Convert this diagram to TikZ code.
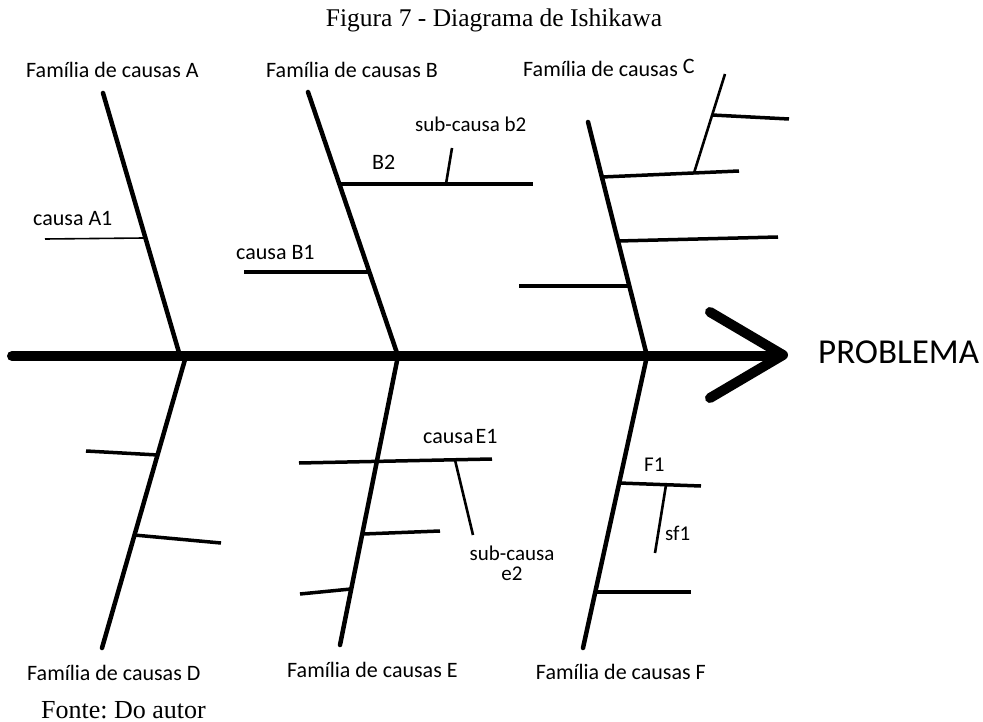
\documentclass[tikz,border=0pt]{standalone}
\usepackage{fontspec}
\setmainfont{Liberation Serif}
\newfontfamily\calfont{Carlito}
\frenchspacing
\begin{document}
\begin{tikzpicture}[x=1pt,y=-1pt,
  lbl/.style={font=\calfont\fontsize{22}{24}\selectfont, inner sep=0pt, anchor=base west},
  slbl/.style={font=\calfont\fontsize{21}{20}\selectfont, inner sep=0pt},
  spine/.style={line width=10pt, line cap=round, line join=round},
  bone/.style={line width=4.5pt, line cap=round},
  branch/.style={line width=3.5pt},
  subline/.style={line width=2.6pt},
  thinline/.style={line width=1.6pt}]
\useasboundingbox (0,0) rectangle (983,722);
% title and source
\node[font=\fontsize{25.5}{27}\selectfont, inner sep=0pt, anchor=base] (title) at (494,27) {Figura 7 - Diagrama de Ishikawa};
\node[font=\fontsize{26}{27}\selectfont, inner sep=0pt, anchor=base west] (fonte) at (41,718) {Fonte: Do autor};
% spine
\coordinate (s0) at (12,356);
\coordinate (s1) at (780,356);
\coordinate (hu) at (710,312);
\coordinate (ht) at (783,355);
\coordinate (hd) at (710,398);
\draw[spine] (s0) -- (s1);
\draw[spine] (hu) -- (ht) -- (hd);
\node[font=\calfont\fontsize{35}{36}\selectfont, inner sep=0pt, anchor=base west] (prob) at (818,363) {PROBLEMA};
% family labels
\node[lbl] (la) at (26,78) {Família de causas A};
\node[lbl] (lb) at (266,78) {Família de causas B};
\node[lbl] (lc) at (523,77) {Família de causas\hspace{5pt}\raisebox{3pt}{C}};
\node[lbl] (ld) at (27,680) {Família de causas D};
\node[lbl] (le) at (287,677) {Família de causas E};
\node[lbl, anchor=base east] (lf) at (706,679) {Família de causas F};
% bone A
\coordinate (a0) at (103,93); \coordinate (a1) at (180,356);
\draw[bone] (a0) -- (a1);
\coordinate (a1l) at (45,239); \coordinate (a1r) at (144,238);
\draw[thinline] (a1l) -- (a1r);
\node[lbl] (ta1) at (33,226) {causa A1};
% bone B
\coordinate (b0) at (308,92); \coordinate (b1) at (398,356);
\draw[bone] (b0) -- (b1);
\coordinate (b2l) at (339,184); \coordinate (b2r) at (533,184);
\draw[branch] (b2l) -- (b2r);
\coordinate (sb0) at (446,184); \coordinate (sb1) at (452,148);
\draw[subline] (sb0) -- (sb1);
\node[lbl] (tb2) at (372,170) {B2};
\node[slbl, anchor=base west] (tsb2) at (415,132) {sub-causa b2};
\coordinate (b1l) at (244,272); \coordinate (b1r) at (369,272);
\draw[branch] (b1l) -- (b1r);
\node[lbl] (tb1) at (236,260) {causa B1};
% bone C
\coordinate (c0) at (588,122); \coordinate (c1) at (647,356);
\draw[bone] (c0) -- (c1);
\coordinate (c1l) at (602,177); \coordinate (c1r) at (739,171);
\draw[branch] (c1l) -- (c1r);
\coordinate (sc0) at (694,173); \coordinate (sc1) at (725,74);
\draw[subline] (sc0) -- (sc1);
\coordinate (sc2l) at (712,115); \coordinate (sc2r) at (789,119);
\draw[branch] (sc2l) -- (sc2r);
\coordinate (c2l) at (618,241); \coordinate (c2r) at (778,237);
\draw[branch] (c2l) -- (c2r);
\coordinate (c3l) at (519,286); \coordinate (c3r) at (629,286);
\draw[branch] (c3l) -- (c3r);
% bone D
\coordinate (d0) at (186,356); \coordinate (d1) at (102,648);
\draw[bone] (d0) -- (d1);
\coordinate (d1l) at (86,451); \coordinate (d1r) at (158,455);
\draw[branch] (d1l) -- (d1r);
\coordinate (d2l) at (134,535); \coordinate (d2r) at (221,543);
\draw[branch] (d2l) -- (d2r);
% bone E
\coordinate (e0) at (398,356); \coordinate (e1) at (340,645);
\draw[bone] (e0) -- (e1);
\coordinate (e1l) at (299,463); \coordinate (e1r) at (492,459);
\draw[branch] (e1l) -- (e1r);
\coordinate (se0) at (455,460); \coordinate (se1) at (473,535);
\draw[subline] (se0) -- (se1);
\node[lbl] (te1) at (423,443) {causa\hspace{2pt}E1};
\node[slbl, align=center, anchor=north] (tse2) at (512,546) {sub-causa\\e2};
\coordinate (e2l) at (363,534); \coordinate (e2r) at (440,531);
\draw[branch] (e2l) -- (e2r);
\coordinate (e3l) at (300,594); \coordinate (e3r) at (351,589);
\draw[branch] (e3l) -- (e3r);
% bone F
\coordinate (f0) at (647,356); \coordinate (f1) at (583,648);
\draw[bone] (f0) -- (f1);
\coordinate (f1l) at (619,483); \coordinate (f1r) at (701,486);
\draw[branch] (f1l) -- (f1r);
\coordinate (sf0) at (666,485); \coordinate (sf1) at (655,553);
\draw[subline] (sf0) -- (sf1);
\node[slbl, anchor=base west] (tf1) at (644,471) {F1};
\node[slbl, anchor=base west] (tsf1) at (665,540) {sf1};
\coordinate (f2l) at (595,592); \coordinate (f2r) at (691,592);
\draw[branch] (f2l) -- (f2r);
\end{tikzpicture}
\end{document}
